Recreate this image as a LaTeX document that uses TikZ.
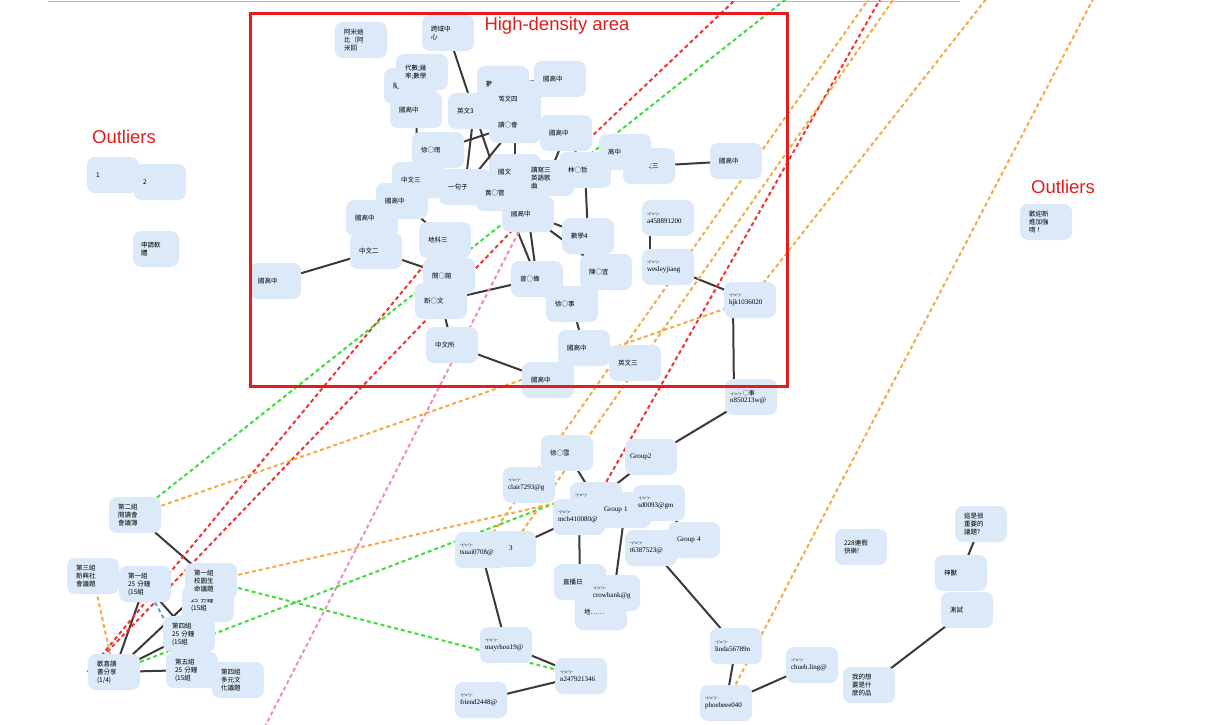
\documentclass[tikz,border=0pt]{standalone}
\usepackage{fontspec}
\setmainfont{Liberation Serif}
\newfontfamily\cjk{Noto Sans CJK TC}
\newfontfamily\labelsans{Liberation Sans}
\definecolor{nodefill}{RGB}{219,233,248}
\definecolor{edgedark}{RGB}{58,58,58}
\definecolor{lnred}{RGB}{238,52,52}
\definecolor{lnorange}{RGB}{246,170,70}
\definecolor{lngreen}{RGB}{60,222,60}
\definecolor{lnpink}{RGB}{240,140,190}
\definecolor{lnblue}{RGB}{110,150,232}
\definecolor{boxred}{RGB}{228,28,28}
\pgfdeclarelayer{edges}
\pgfsetlayers{edges,main}
\newcommand{\emo}{{\fontsize{4}{4.5}\selectfont\textasciitilde(\textasciicircum o\textasciicircum)\textasciitilde}}
\tikzset{
  box/.style={fill=nodefill, rounded corners=8pt, minimum width=52pt, minimum height=36pt,
    inner xsep=9pt, inner ysep=2pt, text width=34pt, align=left,
    font=\cjk\fontsize{6.5}{8}\selectfont},
  mail/.style={box, inner xsep=5pt, text width=42pt, font=\fontsize{7}{7.5}\selectfont},
  link/.style={draw=edgedark, line width=2pt},
  dashlink/.style={line width=2pt, dash pattern=on 4pt off 3pt},
  redlink/.style={dashlink, draw=lnred},
  orangelink/.style={dashlink, draw=lnorange},
  greenlink/.style={dashlink, draw=lngreen},
  pinklink/.style={dashlink, draw=lnpink},
  bluelink/.style={dashlink, draw=lnblue},
  tag/.style={text=boxred, font=\labelsans\fontsize{18.5}{20}\selectfont, inner sep=0pt},
}
\begin{document}
\begin{tikzpicture}[x=1pt,y=-1pt]
\useasboundingbox (0,0) rectangle (1211,725);

% ---------- outliers ----------
\node[box] (o1) at (113,175) {1};
\node[box] (o2) at (160,182) {2};
\node[box, minimum width=46pt, text width=30pt, inner xsep=8pt] (osq) at (156,249) {申請軟\\體};
\node[box] (owel) at (1046,222) {歡迎新\\進加強\\唷！};

% ---------- dense cluster ----------
\node[box] (amidi) at (361,40) {阿米迪\\比（阿\\米回};
\node[box] (kuayu) at (448,33) {跨域中\\心};
\node[box] (sui) at (410,86) {隨筆二};
\node[box] (daishu) at (422,72) {代數;幾\\率;數學};
\node[box] (g1) at (416,110) {國高中};
\node[box] (shu1) at (503,84) {數一二};
\node[box] (g2) at (560,79) {國高中};
\node[box] (en4) at (515,99) {英文四};
\node[box] (en3) at (474,111) {英文3};
\node[box] (dushu) at (515,125) {讀○會};
\node[box] (g3) at (566,133) {國高中};
\node[box] (xu) at (438,150) {徐○雨};
\node[box] (zw3) at (418,180) {中文三};
\node[box] (juzi) at (465,187) {一句子};
\node[box] (g7) at (528,214) {國高中};
\node[box] (guofu) at (515,172) {國文};
\node[box] (duxie) at (548,178) {讀寫三\\英語歌\\曲};
\node[box] (huang) at (502,193) {黃○管};
\node[box] (g5) at (372,218) {國高中};
\node[box] (g4) at (402,201) {國高中};
\node[box] (zw2) at (376,251) {中文二};
\node[box] (dk3) at (445,240) {地科三};
\node[box] (g6) at (275,281) {國高中};
\node[box] (zhe) at (585,170) {林○哲};
\node[box] (en3b) at (649,166) {\hspace*{7pt}英文三};
\node[box] (gao) at (625,152) {高中};
\node[box] (g8) at (736,161) {國高中};
\node[box] (sx4) at (588,236) {數學4};
\node[box] (chen) at (606,272) {陳○宜};
\node[mail] (a45) at (668,218) {\emo\\a458891200};
\node[mail] (wes) at (668,267) {\emo\\wesleyjiang};
\node[mail] (hjk) at (750,300) {\emo\\hjk1036020};
\node[box] (yue) at (449,276) {閱○館};
\node[box] (xin) at (441,301) {新○文};
\node[box] (zwsuo) at (452,345) {中文所};
\node[box] (zeng) at (537,279) {曾○偉};
\node[box] (xushi) at (572,304) {徐○事};
\node[box] (g9) at (584,348) {國高中};
\node[box] (g10) at (548,380) {國高中};
\node[box] (en3c) at (635,363) {英文三};
\node[mail] (n85) at (751,397) {\emo{\cjk\fontsize{6}{6}\selectfont ○事}\\n850213w@};

% ---------- groups in the middle ----------
\node[box] (xuxue) at (567,453) {徐○雪};
\node[mail] (grp2) at (651,457) {Group2};
\node[mail] (clair) at (529,485) {\emo\\clair7293@g};
\node[mail] (back) at (596,500) {\emo\\meichi@g};
\node[mail] (mch) at (579,517) {\emo\\mch410080@};
\node[mail] (grp1) at (625,510) {Group 1};
\node[mail] (sd) at (659,503) {\emo\\sd0093@gm};
\node[mail] (grp4) at (694,540) {\hspace*{4pt}Group 4};
\node[mail] (t63) at (651,548) {\emo\\t6387523@};
\node[mail] (grp3) at (510,549) {Group 3};
\node[mail] (tsuai) at (481,550) {\emo\\tsuai0708@};
\node[box] (zhibo) at (580,582) {直播日};
\node[box] (di) at (601,612) {地……};
\node[mail] (crow) at (614,593) {\emo\\crowbank@g};
\node[mail] (mayr) at (506,645) {\emo\\mayrhou19@};
\node[mail] (n24) at (581,676) {\emo\\n247921346};
\node[mail] (friend) at (481,700) {\emo\\friend2448@};

% ---------- lower right ----------
\node[mail] (linda) at (736,646) {\emo\\linda56789n};
\node[mail] (phoebe) at (726,703) {\emo\\phoebeee040};
\node[mail] (chueh) at (812,665) {\emo\\chueh.ling@};
\node[box] (lianjia) at (861,547) {228連假\\快樂!};
\node[box] (yiti) at (981,524) {這是很\\重要的\\議題?};
\node[box] (shen) at (961,573) {神獸};
\node[box] (ceshi) at (967,610) {測試};
\node[box] (wode) at (869,685) {我的想\\要是什\\麼的品};

% ---------- lower left ----------
\node[box] (z2) at (135,515) {第二組\\閱讀會\\會議簿};
\node[box] (z3) at (93,576) {第三組\\新興社\\會議題};
\node[box] (z1a) at (145,584) {第一組\\25 分鐘\\(15組};
\node[box] (z1b) at (208,604) {25 分鐘\\(15組};
\node[box] (z1c) at (211,581) {第一組\\校園生\\命議題};
\node[box] (z4a) at (189,634) {第四組\\25 分鐘\\(15組};
\node[box] (z5) at (192,670) {第五組\\25 分鐘\\(15組};
\node[box] (z4b) at (238,680) {第四組\\多元文\\化議題};
\node[box] (huan) at (114,672) {歡喜讀\\書分享\\(1/4)};

% ends of links leaving the visible area
\coordinate (offA) at (756,-20);
\coordinate (offG) at (810,-20);
\coordinate (offR) at (891,-20);
\coordinate (offO1) at (882,-20);
\coordinate (offO2) at (907,-20);
\coordinate (offO3) at (1001,-20);
\coordinate (offO4) at (1103,-20);
\coordinate (offP) at (258,740);

\begin{pgfonlayer}{edges}
\fill[white] (0,0) rectangle (1211,725);
\draw[gray!55, line width=1pt] (48,2) -- (960,2);
\begin{scope}
\clip (0,0) rectangle (1211,725);
% solid links
\draw[link] (kuayu.center) -- (en3.center);
\draw[link] (g1.center) -- (zw3.center);
\draw[link] (en3.center) -- (juzi.center);
\draw[link] (dushu.center) -- (juzi.center);
\draw[link] (en3.center) -- (huang.center);
\draw[link] (xu.center) -- (dushu.center);
\draw[link] (en4.center) -- (guofu.center);
\draw[link] (g3.center) -- (duxie.center);
\draw[link] (shu1.center) -- (g2.center);
\draw[link] (en3b.center) -- (g8.center);
\draw[link] (zhe.center) -- (sx4.center);
\draw[link] (g7.center) -- (sx4.center);
\draw[link] (g7.center) -- (chen.center);
\draw[link] (huang.center) -- (zeng.center);
\draw[link] (g7.center) -- (zeng.center);
\draw[link] (zeng.center) -- (xin.center);
\draw[link] (xin.center) -- (zwsuo.center);
\draw[link] (zwsuo.center) -- (g10.center);
\draw[link] (xushi.center) -- (g9.center);
\draw[link] (g9.center) -- (en3c.center);
\draw[link] (g6.center) -- (zw2.center);
\draw[link] (zw2.center) -- (yue.center);
\draw[link] (g4.center) -- (dk3.center);
\draw[link] ([xshift=-18pt]a45.center) -- ([xshift=-18pt]wes.center);
\draw[link] (wes.center) -- (hjk.center);
\draw[link] ([xshift=-17pt]hjk.center) -- ([xshift=-17pt]n85.center);
\draw[link] (n85.center) -- (grp2.center);
\draw[link] (grp2.center) -- (back.center);
\draw[link] (xuxue.center) -- (back.center);
\draw[link] (mch.center) -- (grp3.center);
\draw[link] (mch.center) -- (zhibo.center);
\draw[link] (grp1.center) -- (crow.center);
\draw[link] (sd.center) -- (grp4.center);
\draw[link] (t63.center) -- (linda.center);
\draw[link] (tsuai.center) -- (mayr.center);
\draw[link] (mayr.center) -- (n24.center);
\draw[link] (friend.center) -- (n24.center);
\draw[link] (linda.center) -- (phoebe.center);
\draw[link] (phoebe.center) -- (chueh.center);
\draw[link] (wode.center) -- (ceshi.center);
\draw[link] (shen.center) -- (yiti.center);
\draw[link] (z2.center) -- (z1c.center);
\draw[link] (z1a.center) -- (huan.center);
\draw[link] (z1a.center) -- (z4a.center);
\draw[link] (huan.center) -- (z1c.center);
\draw[link] (huan.center) -- (z4a.center);
\draw[link] (huan.center) -- (z5.center);
% dashed links
\draw[pinklink] (offP) -- (g7.center);
\draw[redlink] (huan.west) -- (dk3.center);
\draw[redlink] (huan.west) -- (g7.center);
\draw[redlink] (duxie.center) -- (offA);
\draw[redlink] (back.center) -- (offR);
\draw[greenlink] (z2.center) -- (offG);
\draw[greenlink] (huan.center) -- (clair.south east);
\draw[greenlink] (z1c.center) -- (n24.center);
\draw[orangelink] (z2.center) -- (hjk.center);
\draw[orangelink] (z1c.center) -- (clair.south east);
\draw[orangelink] (z3.center) -- (huan.center);
\draw[orangelink] (tsuai.center) -- (offO1);
\draw[orangelink] (grp3.center) -- (offO2);
\draw[orangelink] (hjk.center) -- (offO3);
\draw[orangelink] (phoebe.center) -- (offO4);
\draw[bluelink] (z1a.center) -- (z5.center);
\draw[bluelink] (z1c.center) -- (z4a.center);
\end{scope}
\end{pgfonlayer}

% ---------- annotations ----------
\draw[boxred, line width=3pt] (250,14) rectangle (787,386);
\node[tag] (hdlabel) at (557,26) {High-density area};
\node[tag] (outl) at (124,137) {Outliers};
\node[tag] (outr) at (1063,187) {Outliers};
\end{tikzpicture}
\end{document}
